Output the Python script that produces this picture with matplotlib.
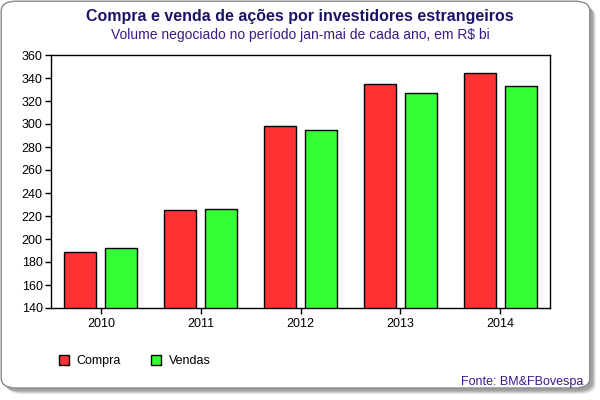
import numpy as np
import matplotlib.pyplot as plt
from matplotlib.patches import FancyBboxPatch

plt.rcParams['font.family'] = ['Liberation Sans', 'DejaVu Sans']

# Data
anos = ['2010', '2011', '2012', '2013', '2014']
compra = [189, 225, 298, 334.5, 344]
vendas = [192, 226, 294.5, 327, 333]
y_ticks = list(range(140, 361, 20))

fig = plt.figure(figsize=(6, 4), dpi=100)

# Card background with a soft shadow (a few stacked layers)
for i, a in enumerate([0.15, 0.2, 0.25, 0.3]):
    off = (6 - i) / 600
    sh = FancyBboxPatch((0.002 + off, 0.03 - off * 1.5), 0.981, 0.967,
                        boxstyle="round,pad=0,rounding_size=0.025",
                        transform=fig.transFigure, facecolor='#707070', edgecolor='none',
                        alpha=a, zorder=-2)
    fig.patches.append(sh)
card = FancyBboxPatch((0.002, 0.03), 0.981, 0.967, boxstyle="round,pad=0,rounding_size=0.025",
                      transform=fig.transFigure, facecolor='white', edgecolor='#8a8a8a',
                      linewidth=1, zorder=-1)
fig.patches.append(card)

ax = fig.add_axes([51/600, 1 - 308/400, 499/600, 253/400])
x = np.arange(len(anos))
w = 0.32
ax.bar(x - 0.205, compra, w, color='#ff3333', edgecolor='black', linewidth=1, label='Compra')
ax.bar(x + 0.205, vendas, w, color='#33ff33', edgecolor='black', linewidth=1, label='Vendas')

ax.set_xlim(-0.5, len(anos) - 0.5)
ax.set_ylim(140, 360)
ax.set_yticks(y_ticks)
ax.set_xticks(x)
ax.set_xticklabels(anos)
ax.tick_params(axis='both', labelsize=9, length=4, width=1, colors='black')
ax.tick_params(axis='y', pad=2)
ax.tick_params(axis='x', pad=3)
for s in ax.spines.values():
    s.set_linewidth(1)
ax.set_facecolor('white')

fig.text(0.5, 1 - 16/400, 'Compra e venda de ações por investidores estrangeiros',
         ha='center', va='center', fontsize=11.5, fontweight='bold', color='#1a1466')
fig.text(0.5, 1 - 35/400, 'Volume negociado no período jan-mai de cada ano, em R$ bi',
         ha='center', va='center', fontsize=10, color='#3a1a8a')

leg = fig.legend(loc='center left', bbox_to_anchor=(48/600, 1 - 361/400), ncol=2,
                 frameon=False, fontsize=9, handlelength=0.8, handleheight=0.8,
                 columnspacing=2.4, handletextpad=0.6)

fig.text(583/600, 1 - 382/400, 'Fonte: BM&FBovespa', ha='right', va='center',
         fontsize=9, color='#3a1a8a')

fig.savefig('out.png', dpi=100)
